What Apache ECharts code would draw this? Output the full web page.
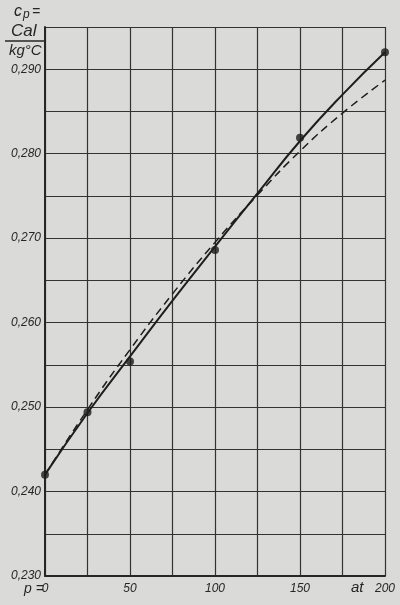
<!DOCTYPE html>
<html>
<head>
<meta charset="utf-8">
<script src="https://cdn.jsdelivr.net/npm/echarts@6/dist/echarts.min.js"></script>
<style>
html,body{margin:0;padding:0;background:#dadad8;}
#c{width:400px;height:605px;}
</style>
</head>
<body>
<div id="c"></div>
<script>
// Pressure p in at
const pressures = [0, 25, 50, 75, 100, 125, 150, 175, 200];
// solid curve c_p values
const solidCurve = [0.2420, 0.2493, 0.2560, 0.2626, 0.2690, 0.2753, 0.2815, 0.2870, 0.2920];
// dashed curve c_p values
const dashedCurve = [0.2420, 0.2497, 0.2568, 0.2634, 0.2695, 0.2751, 0.2803, 0.2848, 0.2887];
// measured points
const pointP = [0, 25, 50, 100, 150, 200];
const pointCp = [0.2420, 0.2494, 0.2554, 0.2686, 0.2819, 0.2920];
// axis tick labels
const yTicks = [0.23, 0.24, 0.25, 0.26, 0.27, 0.28, 0.29];
const xTicks = [0, 50, 100, 150, 200];

const chart = echarts.init(document.getElementById('c'));
const ink = '#262626';
const fontItal = {fontStyle: 'italic', fontFamily: 'Liberation Sans', color: ink};

chart.setOption({
  backgroundColor: '#dadad8',
  animation: false,
  grid: {left: 45, right: 15, top: 27, bottom: 29},
  xAxis: {
    type: 'value', min: 0, max: 200, interval: 25,
    axisLine: {show: true, onZero: false, lineStyle: {color: ink, width: 2}},
    axisTick: {show: false},
    splitLine: {show: true, lineStyle: {color: '#333', width: 1.2}},
    axisLabel: {
      margin: 7, fontSize: 12, ...fontItal,
      formatter: v => xTicks.includes(v) ? String(v) : ''
    }
  },
  yAxis: {
    type: 'value', min: 0.230, max: 0.295, interval: 0.005,
    axisLine: {show: true, onZero: false, lineStyle: {color: ink, width: 2}},
    axisTick: {show: false},
    splitLine: {show: true, lineStyle: {color: '#333', width: 1.2}},
    axisLabel: {
      margin: 4, fontSize: 12, ...fontItal,
      formatter: v => yTicks.some(t => Math.abs(t - v) < 1e-6) ? v.toFixed(3).replace('.', ',') : ''
    }
  },
  graphic: [
    {type: 'text', left: 14, top: 4, style: {text: 'c', font: 'italic 16px Liberation Sans', fill: ink}},
    {type: 'text', left: 23, top: 9, style: {text: 'p', font: 'italic 12px Liberation Sans', fill: ink}},
    {type: 'text', left: 32, top: 5, style: {text: '=', font: 'italic 14px Liberation Sans', fill: ink}},
    {type: 'text', left: 11, top: 23, style: {text: 'Cal', font: 'italic 17px Liberation Sans', fill: ink}},
    {type: 'line', shape: {x1: 5, y1: 41, x2: 44, y2: 41}, style: {stroke: ink, lineWidth: 1.3}},
    {type: 'text', left: 9, top: 43, style: {text: 'kg°C', font: 'italic 15px Liberation Sans', fill: ink}},
    {type: 'text', left: 24, top: 582, style: {text: 'p =', font: 'italic 14px Liberation Sans', fill: ink}},
    {type: 'text', left: 351, top: 580, style: {text: 'at', font: 'italic 15px Liberation Sans', fill: ink}}
  ],
  series: [
    {
      type: 'line', data: pressures.map((p, i) => [p, solidCurve[i]]),
      smooth: true, showSymbol: false,
      lineStyle: {color: '#1e1e1e', width: 2}
    },
    {
      type: 'line', data: pressures.map((p, i) => [p, dashedCurve[i]]),
      smooth: true, showSymbol: false,
      lineStyle: {color: '#1e1e1e', width: 1.5, type: [8, 5]}
    },
    {
      type: 'scatter', data: pointP.map((p, i) => [p, pointCp[i]]),
      symbolSize: 8, itemStyle: {color: '#1a1a1a'}
    }
  ]
});
</script>
</body>
</html>
